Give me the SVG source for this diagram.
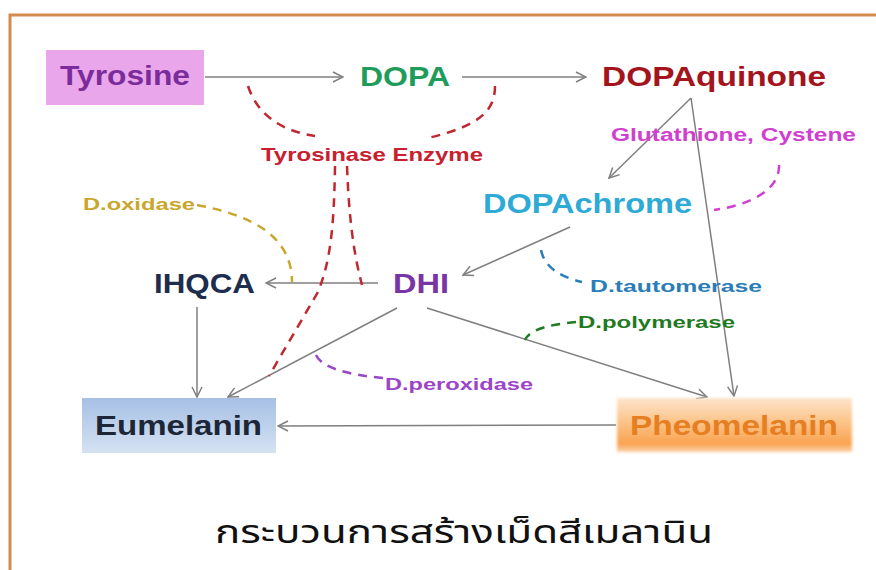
<svg xmlns="http://www.w3.org/2000/svg" width="876" height="570" viewBox="0 0 876 570">
<style>
text{font-family:"Liberation Sans",Arial,sans-serif;font-weight:bold}
.big{font-size:28px}
.sm{font-size:17px}
.ln{fill:none;stroke:#7f7f7f;stroke-width:1.5}
.ds{fill:none;stroke-width:2.5;stroke-dasharray:9 7}
</style>
<defs>
<marker id="ah" viewBox="0 0 12 12" refX="11" refY="6" markerWidth="12" markerHeight="12" markerUnits="userSpaceOnUse" orient="auto">
<path d="M1,1 L11,6 L1,11" fill="none" stroke="#7f7f7f" stroke-width="1.5"/>
</marker>
<linearGradient id="gEu" x1="0" y1="0" x2="0" y2="1">
<stop offset="0" stop-color="#a6c0e5"/>
<stop offset="1" stop-color="#d5e2f2"/>
</linearGradient>
<linearGradient id="gPh" x1="0" y1="0" x2="0" y2="1">
<stop offset="0" stop-color="#fde4cb"/>
<stop offset="0.45" stop-color="#fcc387"/>
<stop offset="0.85" stop-color="#f9a24f"/>
<stop offset="1" stop-color="#fcd3ad"/>
</linearGradient>
<filter id="soft" x="-5%" y="-10%" width="110%" height="120%"><feGaussianBlur stdDeviation="1.5"/></filter>
</defs>
<rect width="876" height="570" fill="#ffffff"/>
<path d="M10,570 L10,15 L876,15" fill="none" stroke="#d38b4f" stroke-width="3"/>

<g id="connectors">
<line class="ln" x1="205" y1="77" x2="343" y2="77" marker-end="url(#ah)"/>
<line class="ln" x1="462" y1="77" x2="586" y2="77" marker-end="url(#ah)"/>
<line class="ln" x1="691" y1="98" x2="609" y2="178" marker-end="url(#ah)"/>
<line class="ln" x1="691" y1="98" x2="734" y2="396" marker-end="url(#ah)"/>
<line class="ln" x1="570" y1="227" x2="463" y2="275" marker-end="url(#ah)"/>
<line class="ln" x1="378" y1="283" x2="266" y2="283" marker-end="url(#ah)"/>
<line class="ln" x1="197" y1="307" x2="197" y2="397" marker-end="url(#ah)"/>
<line class="ln" x1="397" y1="308" x2="228" y2="397" marker-end="url(#ah)"/>
<line class="ln" x1="427" y1="308" x2="707" y2="397" marker-end="url(#ah)"/>
<line class="ln" x1="616" y1="425" x2="278" y2="426" marker-end="url(#ah)"/>
<path class="ds" stroke="#c0282f" d="M248,86 Q262,128 315,136"/>
<path class="ds" stroke="#c0282f" d="M495,86 C495,112 478,126 428,138"/>
<path class="ds" stroke="#c0282f" d="M335,166 C334,230 330,262 318,292 L269,376"/>
<path class="ds" stroke="#c0282f" d="M347,166 C349,220 354,255 362,285"/>
<path class="ds" stroke="#c9a62c" d="M197,205 C250,215 292,235 292,282"/>
<path class="ds" stroke="#d040d0" d="M779,165 C780,190 750,205 714,210"/>
<path class="ds" stroke="#2a7db8" d="M541,250 C545,270 565,278 582,282"/>
<path class="ds" stroke="#1f7a22" d="M576,322 C555,324 530,328 525,340"/>
<path class="ds" stroke="#9b45c8" d="M383,378 C350,375 318,368 315,352"/>
</g>

<g id="tyrosine">
<rect x="46" y="50" width="158" height="55" fill="#eaa6ea"/>
<text class="big" x="60" y="85" fill="#7b2c9b" textLength="130" lengthAdjust="spacingAndGlyphs">Tyrosine</text>
</g>
<g id="dopa"><text class="big" x="360" y="86" fill="#1f9c5a" textLength="90" lengthAdjust="spacingAndGlyphs">DOPA</text></g>
<g id="dopaquinone"><text class="big" x="602" y="86" fill="#a3141c" textLength="224" lengthAdjust="spacingAndGlyphs">DOPAquinone</text></g>
<g id="tyrosinase"><text x="261" y="161" font-size="19" fill="#c8202e" textLength="222" lengthAdjust="spacingAndGlyphs">Tyrosinase Enzyme</text></g>
<g id="glutathione"><text x="611" y="141" font-size="18" fill="#d040d0" textLength="245" lengthAdjust="spacingAndGlyphs">Glutathione, Cystene</text></g>
<g id="dopachrome"><text class="big" x="483" y="213" fill="#2eaad6" textLength="209" lengthAdjust="spacingAndGlyphs">DOPAchrome</text></g>
<g id="doxidase"><text class="sm" x="83" y="210" fill="#c9a62c" textLength="112" lengthAdjust="spacingAndGlyphs">D.oxidase</text></g>
<g id="ihqca"><text class="big" x="154" y="293" fill="#1e2d4e" textLength="101" lengthAdjust="spacingAndGlyphs">IHQCA</text></g>
<g id="dhi"><text class="big" x="393" y="293" fill="#7a35a5" textLength="56" lengthAdjust="spacingAndGlyphs">DHI</text></g>
<g id="dtautomerase"><text class="sm" x="590" y="292" fill="#2a7db8" textLength="172" lengthAdjust="spacingAndGlyphs">D.tautomerase</text></g>
<g id="dpolymerase"><text class="sm" x="578" y="328" fill="#1f7a22" textLength="157" lengthAdjust="spacingAndGlyphs">D.polymerase</text></g>
<g id="dperoxidase"><text class="sm" x="385" y="390" fill="#9b45c8" textLength="148" lengthAdjust="spacingAndGlyphs">D.peroxidase</text></g>
<g id="eumelanin">
<rect x="82" y="398" width="194" height="55" fill="url(#gEu)"/>
<text class="big" x="95" y="435" fill="#1c2636" textLength="167" lengthAdjust="spacingAndGlyphs">Eumelanin</text>
</g>
<g id="pheomelanin">
<rect x="617" y="398" width="235" height="54" fill="url(#gPh)" filter="url(#soft)"/>
<text class="big" x="630" y="435" fill="#e67e22" textLength="208" lengthAdjust="spacingAndGlyphs">Pheomelanin</text>
</g>
<g id="title"><text x="215" y="543" font-size="32" font-weight="normal" fill="#111111" style="font-family:'Noto Sans Thai','Noto Sans','DejaVu Sans',sans-serif;font-weight:normal" textLength="498" lengthAdjust="spacingAndGlyphs">กระบวนการสร้างเม็ดสีเมลานิน</text></g>
</svg>
